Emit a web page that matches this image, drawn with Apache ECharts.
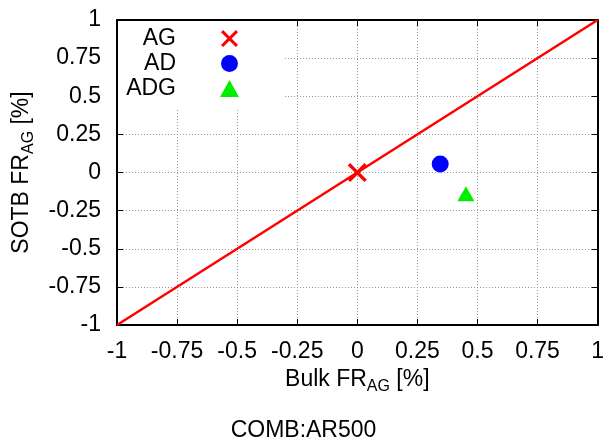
<!DOCTYPE html>
<html>
<head>
<meta charset="utf-8">
<script src="https://cdn.jsdelivr.net/npm/echarts@6/dist/echarts.min.js"></script>
<style>html,body{margin:0;padding:0;background:#fff}#c{width:607px;height:439px}</style>
</head>
<body>
<div id="c"></div>
<script>
// ---- data ----
var seriesNames = ['AG', 'AD', 'ADG'];
var agX = [0.0],   agY = [0.0];
var adX = [0.345], adY = [0.055];
var adgX = [0.452], adgY = [-0.14];
var diagX = [-1, 1], diagY = [-1, 1];
var tickValues = [-1, -0.75, -0.5, -0.25, 0, 0.25, 0.5, 0.75, 1];
var xTitle = 'Bulk FR', yTitle = 'SOTB FR', subTitle = 'AG', unit = ' [%]';
var chartTitle = 'COMB:AR500';

function pairs(xs, ys) { return xs.map(function (x, i) { return [x, ys[i]]; }); }

var FONT = 'Liberation Sans';
var FS = 23;
var crossPath = 'path://M0,2.5 L2.5,0 L10,7.5 L17.5,0 L20,2.5 L12.5,10 L20,17.5 L17.5,20 L10,12.5 L2.5,20 L0,17.5 L7.5,10 Z';

function nameRich() {
  return {
    m: { fontFamily: FONT, fontSize: FS, color: '#000' },
    s: { fontFamily: FONT, fontSize: 16, color: '#000', padding: [15, 0, 0, 0] }
  };
}
function fmtLabel(v) { return String(v); }

var chart = echarts.init(document.getElementById('c'), null, { renderer: 'canvas' });
var axisCommon = {
  type: 'value', min: -1, max: 1, interval: 0.25,
  axisLine: { show: true, onZero: false, lineStyle: { color: '#000', width: 2 } },
  axisTick: { show: true, inside: true, length: 6, lineStyle: { color: '#000', width: 1 } },
  splitLine: { show: true, lineStyle: { color: '#999', type: [1, 2], width: 1 } }
};
var option = {
  animation: false,
  backgroundColor: '#fff',
  title: {
    text: chartTitle, left: 'center', top: 414,
    textStyle: { fontFamily: FONT, fontSize: FS, fontWeight: 'normal', color: '#000' }
  },
  grid: { left: 117, right: 7, top: 20, bottom: 114 },
  legend: {
    data: seriesNames,
    orient: 'vertical', align: 'right',
    left: 118, top: 21,
    padding: [6, 44, 8, 2],
    backgroundColor: '#fff',
    itemWidth: 19, itemHeight: 17, itemGap: 2,
    formatter: function (n) { return '{n|' + n + '}'; },
    textStyle: {
      rich: { n: { fontFamily: FONT, fontSize: FS, lineHeight: 21, color: '#000', width: 56, align: 'right', padding: [0, 39, 0, 0] } }
    }
  },
  xAxis: [
    Object.assign({}, axisCommon, {
      position: 'bottom',
      name: '{m|' + xTitle + '}{s|' + subTitle + '}{m|' + unit + '}',
      nameLocation: 'middle', nameGap: 36,
      nameTextStyle: { rich: nameRich() },
      axisLabel: { fontFamily: FONT, fontSize: FS, color: '#000', margin: 15, formatter: fmtLabel }
    }),
    Object.assign({}, axisCommon, {
      position: 'top', splitLine: { show: false }, axisLabel: { show: false }
    })
  ],
  yAxis: [
    Object.assign({}, axisCommon, {
      position: 'left',
      name: '{m|' + yTitle + '}{s|' + subTitle + '}{m|' + unit + '}',
      nameLocation: 'middle', nameGap: 80,
      nameTextStyle: { rich: nameRich() },
      axisLabel: { fontFamily: FONT, fontSize: FS, color: '#000', margin: 16, formatter: fmtLabel }
    }),
    Object.assign({}, axisCommon, {
      position: 'right', splitLine: { show: false }, axisLabel: { show: false }
    })
  ],
  series: [
    {
      name: 'diag', type: 'line', data: pairs(diagX, diagY), showSymbol: false, symbol: 'none',
      lineStyle: { color: '#ff0000', width: 2.5 }, z: 3, silent: true
    },
    {
      name: 'AG', type: 'scatter', data: pairs(agX, agY), symbol: crossPath, symbolSize: 19,
      itemStyle: { color: '#ff0000', opacity: 1 }, z: 5
    },
    {
      name: 'AD', type: 'scatter', data: pairs(adX, adY), symbol: 'circle', symbolSize: 17,
      itemStyle: { color: '#0000ff', opacity: 1 }, z: 5
    },
    {
      name: 'ADG', type: 'scatter', data: pairs(adgX, adgY), symbol: 'triangle', symbolSize: [17, 15],
      itemStyle: { color: '#00ee00', opacity: 1 }, z: 5
    }
  ]
};
chart.setOption(option);
</script>
</body>
</html>
